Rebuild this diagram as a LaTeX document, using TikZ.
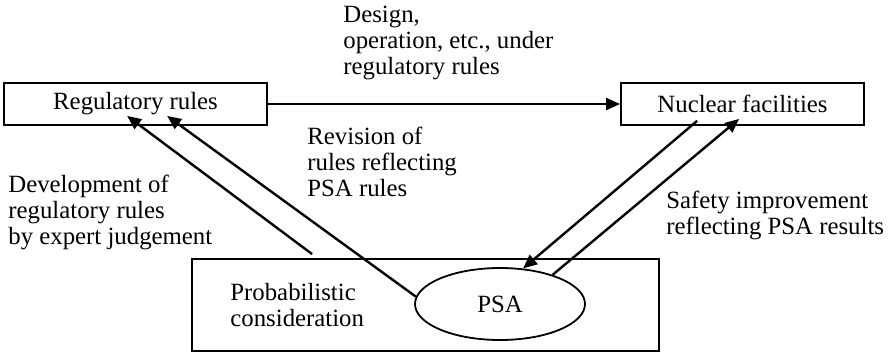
\documentclass[tikz,border=0pt]{standalone}
\usepackage{fontspec}
\setmainfont{Liberation Serif}
\usepackage{tikz}
\usetikzlibrary{shapes,arrows.meta}
\tikzset{
  box/.style={draw, line width=0.9pt, inner sep=0pt},
  lbl/.style={anchor=north west, align=left, inner sep=0pt},
  flow/.style={line width=1.2pt, -{Triangle[length=7pt,width=6pt]}}
}

\begin{document}
\begin{tikzpicture}[x=0.5pt, y=-0.5pt, font=\fontsize{12.4}{13}\selectfont]
\useasboundingbox (0,0) rectangle (889,355);
% boxes
\node[box, minimum width=131.5pt, minimum height=21pt] (regrules) at (135.5,104) {Regulatory rules};
\node[box, minimum width=121.5pt, minimum height=21pt] (nucfac) at (742.5,104) {Nuclear facilities};
\node[box, minimum width=233.5pt, minimum height=46pt] (probbox) at (425.5,305) {};
\node[box, ellipse, minimum width=85pt, minimum height=36pt] (psa) at (500,304) {PSA};
% labels
\node[lbl] (design) at (343,6) {Design,\\operation, etc., under\\regulatory rules};
\node[lbl] (revision) at (307,127) {Revision of\\rules reflecting\\PSA rules};
\node[lbl] (develop) at (8,175) {Development of\\regulatory rules\\by expert judgement};
\node[lbl] (safety) at (666,191) {Safety improvement\\reflecting PSA results};
\node[lbl] (probtext) at (230,283) {Probabilistic\\consideration};
% arrows
\draw[flow] (regrules) -- (nucfac);
\draw[flow] ([shift={(121,-4)}]probbox.north west) -- ([shift={(124,-10)}]regrules.south west);
\draw[flow] (psa.175) -- ([shift={(164,-10)}]regrules.south west);
\draw[flow] ([shift={(77,-5)}]nucfac.south west) -- (psa.57);
\draw[flow] (psa.29) -- ([shift={(119,-7)}]nucfac.south west);
\end{tikzpicture}
\end{document}
